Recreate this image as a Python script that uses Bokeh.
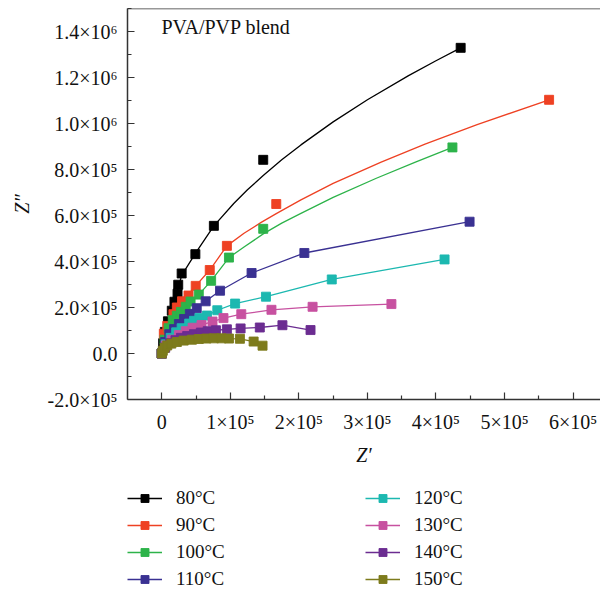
from bokeh.plotting import figure
from bokeh.layouts import column
from bokeh.models import Range1d, FixedTicker, Legend, LegendItem, Span, Label
from bokeh.embed import file_html
from bokeh.resources import INLINE

# Impedance data Z' (real) and Z'' (imaginary), in ohms, for each temperature
z_re_80 = [0, 2e3, 4.5e3, 9e3, 1.46e4, 1.85e4, 2.3e4, 2.4e4, 2.9e4, 4.9e4, 7.6e4, 1.48e5, 4.36e5]
z_im_80 = [0, 4.5e4, 9.4e4, 1.4e5, 1.86e5, 2.25e5, 2.6e5, 2.99e5, 3.48e5, 4.32e5, 5.55e5, 8.42e5, 1.329e6]

z_re_90 = [0, 3e3, 8e3, 1.7e4, 2.2e4, 2.95e4, 3.9e4, 4.95e4, 7.0e4, 9.5e4, 1.67e5, 5.65e5]
z_im_90 = [0, 8.6e4, 1.2e5, 1.71e5, 2.0e5, 2.27e5, 2.52e5, 2.94e5, 3.63e5, 4.68e5, 6.5e5, 1.103e6]

z_re_100 = [0, 4e3, 1e4, 1.6e4, 2.2e4, 2.8e4, 3.5e4, 4.2e4, 5.4e4, 7.2e4, 9.8e4, 1.48e5, 4.24e5]
z_im_100 = [0, 6e4, 1.1e5, 1.45e5, 1.64e5, 1.81e5, 2.03e5, 2.26e5, 2.56e5, 3.16e5, 4.17e5, 5.42e5, 8.96e5]

z_re_110 = [0, 5e3, 1.1e4, 1.8e4, 2.5e4, 3.25e4, 4.1e4, 5.1e4, 6.4e4, 8.5e4, 1.31e5, 2.08e5, 4.49e5]
z_im_110 = [0, 5e4, 8.4e4, 1.06e5, 1.28e5, 1.5e5, 1.72e5, 1.97e5, 2.27e5, 2.73e5, 3.5e5, 4.37e5, 5.73e5]

z_re_120 = [0, 6e3, 1.3e4, 2.1e4, 2.9e4, 4e4, 4.7e4, 5.5e4, 6.6e4, 8.1e4, 1.07e5, 1.52e5, 2.48e5, 4.125e5]
z_im_120 = [0, 4e4, 6.8e4, 9.2e4, 1.1e5, 1.3e5, 1.42e5, 1.54e5, 1.65e5, 1.88e5, 2.17e5, 2.47e5, 3.22e5, 4.09e5]

z_re_130 = [0, 6e3, 1.5e4, 2.5e4, 3.5e4, 4.5e4, 5.8e4, 7.4e4, 9e4, 1.16e5, 1.6e5, 2.2e5, 3.35e5]
z_im_130 = [0, 3.5e4, 6e4, 8e4, 9.7e4, 1.12e5, 1.24e5, 1.39e5, 1.54e5, 1.71e5, 1.9e5, 2.03e5, 2.15e5]

z_re_140 = [0, 5e3, 1.2e4, 2e4, 2.8e4, 3.7e4, 4.7e4, 5.7e4, 6.7e4, 7.9e4, 9.5e4, 1.15e5, 1.43e5, 1.76e5, 2.17e5]
z_im_140 = [0, 2.5e4, 4.5e4, 5.8e4, 6.8e4, 7.6e4, 8.4e4, 9.1e4, 9.7e4, 1.01e5, 1.05e5, 1.09e5, 1.13e5, 1.23e5, 1.02e5]

z_re_150 = [0, 1.5e3, 4e3, 8e3, 1.4e4, 2.2e4, 3.2e4, 4.4e4, 5.4e4, 6.5e4, 7.6e4, 8.7e4, 9.8e4, 1.14e5, 1.34e5, 1.47e5]
z_im_150 = [0, 1.2e4, 2.5e4, 3.5e4, 4.3e4, 5e4, 5.6e4, 6e4, 6.3e4, 6.5e4, 6.6e4, 6.6e4, 6.5e4, 6.4e4, 5.2e4, 3.4e4]

# Smoothed fit curves for the three lowest temperatures
curve_re_80 = [0, 5e3, 1.5e4, 2.9e4, 4.9e4, 7.6e4, 1.05e5, 1.25e5, 1.48e5, 1.75e5, 2.03e5,
               2.5e5, 3.0e5, 3.6e5, 4.0e5, 4.36e5]
curve_im_80 = [0, 9e4, 1.88e5, 3.4e5, 4.35e5, 5.55e5, 6.52e5, 7.12e5, 7.74e5, 8.42e5, 9.07e5,
               1.007e6, 1.103e6, 1.208e6, 1.273e6, 1.329e6]

curve_re_90 = [0, 3e3, 8e3, 1.7e4, 2.95e4, 4.95e4, 7.0e4, 9.5e4, 1.2e5, 1.45e5, 1.67e5, 2.03e5,
               2.5e5, 3.2e5, 3.84e5, 4.6e5, 5.65e5]
curve_im_90 = [0, 8.6e4, 1.2e5, 1.71e5, 2.27e5, 2.94e5, 3.63e5, 4.68e5, 5.23e5, 5.7e5, 6.08e5, 6.68e5,
               7.4e5, 8.32e5, 9.1e5, 9.95e5, 1.103e6]

curve_re_100 = [0, 4e3, 1e4, 1.6e4, 2.2e4, 2.8e4, 3.5e4, 4.2e4, 5.4e4, 7.2e4, 9.8e4, 1.2e5, 1.48e5,
                1.75e5, 2.03e5, 2.5e5, 3.13e5, 3.7e5, 4.24e5]
curve_im_100 = [0, 6e4, 1.1e5, 1.45e5, 1.64e5, 1.81e5, 2.03e5, 2.26e5, 2.56e5, 3.16e5, 4.17e5, 4.63e5, 5.2e5,
                5.67e5, 6.09e5, 6.79e5, 7.62e5, 8.32e5, 8.96e5]

temps = ["80°C", "90°C", "100°C", "110°C", "120°C", "130°C", "140°C", "150°C"]
colors = ["#000000", "#ee4123", "#2db34a", "#3a3192", "#1cb8b0", "#c751a0", "#6b2c91", "#7d7b1c"]

x_ticks = [0, 100000, 200000, 300000, 400000, 500000, 600000]
x_tick_labels = ["0", "1×10⁵", "2×10⁵", "3×10⁵", "4×10⁵", "5×10⁵", "6×10⁵"]
y_ticks = [-200000, 0, 200000, 400000, 600000, 800000, 1000000, 1200000, 1400000]
y_tick_labels = ["-2.0×10⁵", "0.0", "2.0×10⁵", "4.0×10⁵", "6.0×10⁵", "8.0×10⁵",
                 "1.0×10⁶", "1.2×10⁶", "1.4×10⁶"]

SERIF = "Liberation Serif"

p = figure(width=600, height=480, output_backend="svg", toolbar_location=None,
           x_range=Range1d(-50000, 640000), y_range=Range1d(-200000, 1500000),
           min_border_left=127, min_border_right=0, min_border_top=8, min_border_bottom=81)
p.outline_line_color = None
p.grid.visible = False

# top frame edge
p.add_layout(Span(location=1500000, dimension="width", line_color="#333333", line_width=1.5))

for ax, ticks, labels, minors in (
        (p.xaxis[0], x_ticks, x_tick_labels, [50000 + 100000 * i for i in range(6)]),
        (p.yaxis[0], y_ticks, y_tick_labels, [-100000 + 200000 * i for i in range(9)])):
    ax.ticker = FixedTicker(ticks=ticks, minor_ticks=minors)
    ax.major_label_overrides = {t: l for t, l in zip(ticks, labels)}
    ax.major_label_text_font = SERIF
    ax.major_label_text_font_size = "20px"
    ax.major_label_text_color = "#111111"
    ax.axis_line_color = "#333333"
    ax.axis_line_width = 1.5
    ax.major_tick_line_color = "#333333"
    ax.minor_tick_line_color = "#333333"
    ax.major_tick_line_width = 1.2
    ax.minor_tick_line_width = 1.2
    ax.major_tick_in = 7
    ax.major_tick_out = 0
    ax.minor_tick_in = 4
    ax.minor_tick_out = 0
    ax.axis_label_text_font = SERIF
    ax.axis_label_text_font_size = "20px"
    ax.axis_label_text_font_style = "italic"
    ax.axis_label_text_color = "#111111"

p.xaxis.axis_label = "Z′"
p.yaxis.axis_label = "Z″"
p.xaxis.major_label_standoff = 11
p.yaxis.major_label_standoff = 10
p.xaxis.axis_label_standoff = 8
p.yaxis.axis_label_standoff = 12

series = [
    (z_re_80, z_im_80, curve_re_80, curve_im_80),
    (z_re_90, z_im_90, curve_re_90, curve_im_90),
    (z_re_100, z_im_100, curve_re_100, curve_im_100),
    (z_re_110, z_im_110, z_re_110, z_im_110),
    (z_re_120, z_im_120, z_re_120, z_im_120),
    (z_re_130, z_im_130, z_re_130, z_im_130),
    (z_re_140, z_im_140, z_re_140, z_im_140),
    (z_re_150, z_im_150, z_re_150, z_im_150),
]

for (xs, ys, cx, cy), c in zip(series, colors):
    p.line(cx, cy, line_color=c, line_width=1.3)
    p.scatter(xs, ys, marker="square", size=9, fill_color=c, line_color=c, line_width=0.9)

p.add_layout(Label(x=34, y=373, x_units="screen", y_units="screen", text="PVA/PVP blend",
                   text_font=SERIF, text_font_size="20px", text_color="#111111",
                   text_baseline="middle"))

# Legend panel underneath the chart; its swatch renderers sit outside the visible range
lg = figure(width=600, height=110, output_backend="svg", toolbar_location=None,
            x_range=Range1d(0, 1), y_range=Range1d(0, 1),
            min_border_left=0, min_border_right=0, min_border_top=0, min_border_bottom=0)
lg.axis.visible = False
lg.grid.visible = False
lg.outline_line_color = None

items = []
for name, c in zip(temps, colors):
    ln = lg.line(x=[5, 6], y=[5, 6], line_color=c, line_width=1.3)
    sc = lg.scatter(x=[5], y=[5], marker="square", size=9, fill_color=c, line_color=c, line_width=0.9)
    items.append(LegendItem(label=name, renderers=[ln, sc]))

legend = Legend(items=items, ncols=2, location=(0, 0))
legend.label_text_font = SERIF
legend.label_text_font_size = "19px"
legend.label_text_color = "#111111"
legend.glyph_width = 35
legend.glyph_height = 20
legend.label_standoff = 14
legend.label_width = 184
legend.label_height = 20
legend.spacing = 5
legend.padding = 0
legend.margin = 0
legend.border_line_color = None
legend.background_fill_alpha = 0
lg.add_layout(legend)

open("out.html", "w").write(file_html(column(p, lg), INLINE))
